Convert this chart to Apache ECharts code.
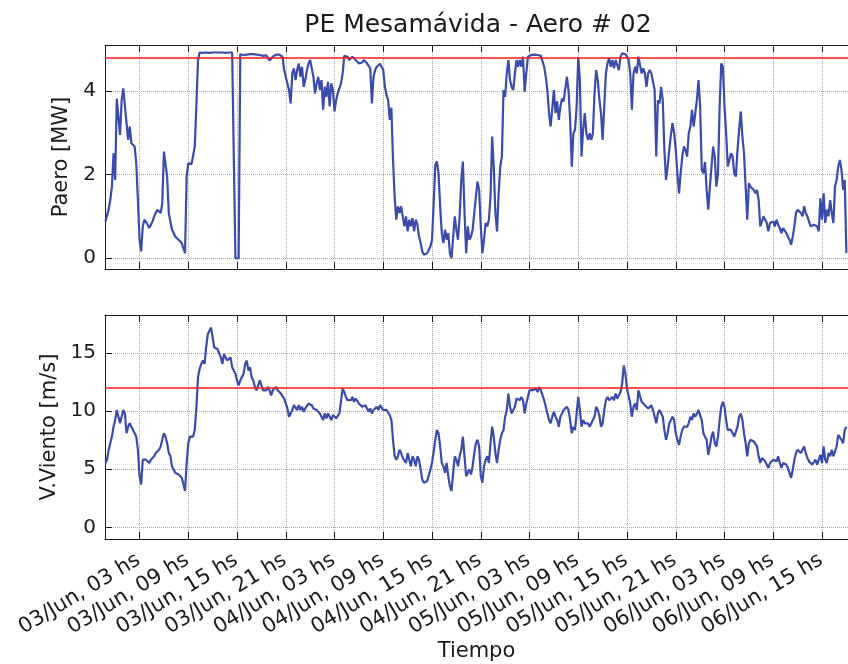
<!DOCTYPE html>
<html><head><meta charset="utf-8">
<script src="https://cdn.jsdelivr.net/npm/echarts@6/dist/echarts.min.js"></script>
<style>html,body{margin:0;padding:0;background:#fff}#c{width:848px;height:664px}</style>
</head><body><div id="c"></div>
<script>
// time grid: hours since 03/Jun 00:00, one sample every 0.2 h
const tStart = -1.2;
const tStep = 0.2;

const paero = [
0.88,0.88,1.16,1.39,1.71,2.51,1.87,3.82,3.78,2.95,
3.78,4.06,4.02,3.23,2.83,3.15,2.75,2.71,2.67,2.27,
1.39,0.44,0.16,0.76,0.92,0.88,0.80,0.72,0.80,0.88,
1.00,1.08,1.16,1.20,1.08,1.31,2.55,2.51,1.95,1.08,
1.04,0.68,0.60,0.52,0.48,0.44,0.40,0.36,0.32,0.12,
1.95,2.27,2.23,2.25,2.27,2.67,3.67,4.74,
4.92,4.92,4.91,4.92,4.92,4.92,4.91,4.92,4.92,4.92,4.92,4.91,4.92,4.92,4.92,4.92,4.91,4.92,4.92,4.92,4.92,
4.90,0,0,0,4.88,4.88,4.86,4.88,4.87,4.90,
4.88,4.86,4.88,4.85,4.87,4.84,4.86,4.87,4.84,4.87,
4.85,4.82,4.73,4.76,4.82,4.85,4.87,4.88,4.87,4.88,
4.82,4.50,4.34,4.18,4.02,
3.70,4.42,4.54,4.26,4.50,4.66,4.34,4.58,4.10,4.26,
4.50,4.66,4.74,4.70,4.34,3.94,4.18,4.34,4.02,4.26,
3.55,4.10,3.86,4.22,3.63,4.18,4.02,3.51,3.78,3.95,
3.94,4.18,4.42,4.84,4.86,4.82,4.74,4.78,4.82,4.78,
4.74,4.70,4.66,4.62,4.68,4.74,4.70,4.66,4.62,4.54,
3.70,4.34,4.50,4.58,4.62,4.65,4.62,4.50,4.10,3.90,
3.78,3.31,3.60,2.35,1.47,0.92,1.24,1.08,1.24,1.00,
0.76,1.00,0.64,0.92,0.76,0.96,0.64,0.92,0.80,0.52,
0.36,0.16,0.08,0.08,0.12,0.20,0.28,0.44,1.30,
2.23,2.31,2.03,1.24,0.60,0.36,0.68,0.44,0.60,0.12,
0.00,0.04,1.00,0.68,0.44,1.00,1.87,2.31,1.08,0.12,
0.76,0.44,0.52,0.68,1.08,1.47,1.83,1.63,
0.76,0.12,0.44,0.84,0.76,0.92,1.47,2.91,2.19,1.08,
0.64,1.55,2.19,2.43,4.02,3.86,4.42,4.74,4.26,4.10,
4.02,4.42,4.74,4.58,4.74,4.58,4.82,3.98,4.42,4.82,
4.85,4.86,4.87,
4.87,4.84,4.86,4.86,4.84,4.82,4.58,4.34,4.02,3.47,
3.15,3.11,4.02,3.47,3.75,3.31,3.63,3.82,3.75,3.78,
4.34,4.02,3.31,2.19,2.99,3.07,3.63,4.82,4.26,2.43,
3.07,3.47,2.99,2.83,2.99,2.83,2.99,3.94,4.50,4.26,3.80,
3.47,2.83,3.63,4.42,4.66,4.78,4.58,4.74,4.54,4.74,
4.62,4.50,4.82,4.90,4.86,4.88,4.82,4.74,4.42,3.55,
4.42,4.58,4.42,4.82,4.62,4.42,4.54,4.42,4.10,4.42,
4.50,4.42,4.46,4.02,2.43,3.78,3.70,
4.10,3.78,2.59,1.87,2.19,2.59,2.95,3.23,2.99,2.59,
2.03,1.55,2.03,2.43,2.67,2.59,2.43,2.99,3.15,3.55,
3.15,3.11,3.78,4.26,3.63,2.11,2.03,2.30,
1.63,1.16,1.71,2.19,2.67,2.43,1.71,2.03,3.63,4.66,
4.58,3.63,2.99,2.19,2.35,2.51,2.43,2.03,1.95,2.59,
3.07,3.51,2.91,2.51,1.71,0.92,1.79,1.71,1.70,
1.63,1.55,1.63,1.39,0.76,0.88,1.00,1.04,0.84,0.64,
0.84,0.80,0.88,0.76,0.92,0.80,0.72,0.60,0.72,0.68,
0.60,0.52,0.44,0.32,0.52,0.76,1.08,1.16,1.12,
1.08,1.00,1.24,1.08,1.00,0.88,0.76,0.72,0.80,0.80,
0.76,0.64,1.43,0.92,1.55,0.84,1.16,1.00,1.39,1.08,
0.84,1.71,1.87,2.19,2.35,2.11,1.63,1.87,0.12
];

const viento = [
5.54,5.82,6.68,7.24,7.81,8.66,9.23,10.09,9.52,8.95,
9.52,10.09,9.80,8.10,8.66,8.95,8.66,8.38,8.10,7.81,
6.68,4.40,3.69,5.82,5.97,5.82,5.68,5.54,5.82,5.97,
6.11,6.39,6.53,6.68,6.96,7.53,8.10,7.81,7.24,6.39,
6.11,5.26,4.97,4.69,4.63,4.55,4.40,4.26,4.12,3.13,
5.54,7.24,7.81,7.95,7.81,8.38,10.37,12.93,
13.64,14.06,14.35,14.06,15.48,16.62,16.90,17.19,16.34,15.48,15.40,
15.34,15.20,14.63,14.06,14.91,14.60,14.35,14.20,14.63,13.78,
13.49,13.21,12.64,12.22,12.64,12.93,13.21,14.06,14.35,13.49,
13.78,12.93,12.64,12.07,11.79,12.22,12.64,12.50,11.79,11.65,
11.79,12.07,11.79,11.36,11.79,11.65,12.07,11.79,11.93,11.51,
11.36,11.08,10.94,10.23,9.52,
9.52,10.09,10.51,10.37,10.09,10.51,10.09,10.37,9.94,10.23,
10.37,10.65,10.80,10.51,10.23,10.37,10.09,10.23,9.80,9.52,
9.23,9.80,9.38,9.80,9.52,9.23,9.66,9.52,9.38,9.50,
9.80,9.66,11.93,11.65,11.22,10.94,11.08,10.94,11.22,10.80,
11.08,10.94,10.65,10.51,10.37,10.23,10.51,10.37,9.94,10.23,
9.80,10.09,9.94,10.37,10.09,10.51,10.37,10.09,10.23,10.10,
9.94,9.66,9.23,7.53,6.11,5.82,6.11,6.68,6.39,5.97,
6.11,5.54,6.39,5.82,5.26,6.11,5.82,5.26,6.11,5.82,
4.97,4.12,3.84,3.69,3.98,4.12,4.97,5.54,6.50,
7.53,8.38,8.10,6.96,5.54,5.26,4.69,5.54,4.40,3.55,
3.13,4.69,6.11,5.82,5.26,6.11,6.68,7.81,6.11,4.40,
4.69,4.97,4.55,5.26,6.39,7.24,7.53,6.96,
4.40,3.84,5.26,5.82,6.11,5.54,7.24,8.66,7.81,6.39,
5.54,6.68,7.53,8.10,8.38,9.52,10.09,11.51,10.37,9.80,
10.09,10.37,11.08,10.94,10.94,11.22,10.94,9.80,10.65,11.22,
11.79,11.93,11.80,
11.65,11.93,11.65,12.07,11.79,11.36,10.94,10.37,9.80,9.23,
8.95,9.52,9.94,9.52,9.23,8.66,9.52,9.80,10.09,10.09,
10.37,10.09,9.23,8.10,8.66,8.38,9.80,11.22,10.09,8.66,
9.23,8.95,8.81,8.95,8.66,8.81,9.23,9.52,10.37,10.09,9.60,
8.66,8.95,10.09,10.94,11.22,10.94,11.08,11.22,10.94,11.51,
11.08,11.22,11.65,12.36,13.92,13.21,11.93,11.79,10.65,9.52,
10.37,10.65,10.09,11.79,11.93,10.80,10.94,10.51,10.65,10.23,
10.37,10.51,10.09,10.09,8.95,9.80,10.09,
10.09,9.52,8.38,7.53,8.10,8.95,9.23,9.52,9.23,8.10,
7.53,7.10,7.81,8.38,8.66,8.52,8.66,8.95,9.52,9.23,
9.80,9.52,9.80,10.09,10.23,9.23,8.10,7.80,
7.53,6.25,6.96,7.81,8.24,7.24,6.96,7.81,9.23,10.37,
10.80,10.37,9.23,8.38,8.24,8.38,8.24,7.81,7.67,8.66,
9.52,9.80,9.23,8.10,7.24,6.11,7.24,7.53,7.50,
7.39,7.24,6.96,6.11,5.54,5.97,6.11,5.68,5.54,5.11,
5.54,5.68,5.82,5.97,5.68,6.11,5.54,5.11,5.54,5.68,
5.40,5.11,4.69,4.26,4.97,5.82,6.39,6.68,6.60,
6.39,6.53,6.96,6.39,5.97,5.68,5.54,5.40,5.54,5.82,
5.40,5.26,6.25,5.54,6.96,5.82,5.54,6.39,6.11,6.68,
6.11,6.11,6.96,7.95,8.10,7.53,7.24,8.38,8.66
];

const tickHours = [3,9,15,21,27,33,39,45,51,57,63,69,75,81,87];
const tickLabels = ["03/Jun, 03 hs","03/Jun, 09 hs","03/Jun, 15 hs","03/Jun, 21 hs",
  "04/Jun, 03 hs","04/Jun, 09 hs","04/Jun, 15 hs","04/Jun, 21 hs",
  "05/Jun, 03 hs","05/Jun, 09 hs","05/Jun, 15 hs","05/Jun, 21 hs",
  "06/Jun, 03 hs","06/Jun, 09 hs","06/Jun, 15 hs"];
const yTicksP = [0, 2, 4];
const yTicksV = [0, 5, 10, 15];
const limitP = 4.8;
const limitV = 12;

const times = paero.map((_, i) => +(tStart + i * tStep).toFixed(2));
const dataP = times.map((t, i) => [t, paero[i]]);
const dataV = times.map((t, i) => [t, viento[i]]);

const FONT = 'DejaVu Sans';
const INK = '#1a1a1a';
const LINE = '#3a4cab';
const xMin = -1.25, xMax = 90.2;

function xBottom(grid, showLabels) {
  return {
    gridIndex: grid, type: 'value', min: xMin, max: xMax, position: 'bottom',
    axisLine: { show: true, onZero: false, lineStyle: { color: INK, width: 1 } },
    axisTick: { show: true, inside: true, length: 7, customValues: tickHours, lineStyle: { color: INK } },
    axisLabel: showLabels ? {
      show: true, customValues: tickHours, rotate: 31, margin: 19,
      fontFamily: FONT, fontSize: 21, color: INK, padding: [0, 1, 0, 0],
      formatter: v => tickLabels[tickHours.indexOf(Math.round(v))] || ''
    } : { show: false },
    splitLine: { show: true, lineStyle: { type: 'dotted', color: '#a8a8a8', width: 1 } },
    name: showLabels ? 'Tiempo' : '', nameLocation: 'middle', nameGap: 100,
    nameTextStyle: { fontFamily: FONT, fontSize: 21, color: INK }
  };
}
function xTop(grid) {
  return {
    gridIndex: grid, type: 'value', min: xMin, max: xMax, position: 'top',
    axisLine: { show: true, onZero: false, lineStyle: { color: INK, width: 1 } },
    axisTick: { show: true, inside: true, length: 7, customValues: tickHours, lineStyle: { color: INK } },
    axisLabel: { show: false }, splitLine: { show: false }
  };
}
function yLeft(grid, min, max, ticks, name, gap) {
  return {
    gridIndex: grid, type: 'value', min: min, max: max, position: 'left',
    axisLine: { show: true, onZero: false, lineStyle: { color: INK, width: 1 } },
    axisTick: { show: true, inside: true, length: 7, customValues: ticks, lineStyle: { color: INK } },
    axisLabel: { show: true, customValues: ticks, margin: 9, fontFamily: FONT, fontSize: 20, color: INK },
    splitLine: { show: true, lineStyle: { type: 'dotted', color: '#a8a8a8', width: 1 } },
    name: name, nameLocation: 'middle', nameGap: gap,
    nameTextStyle: { fontFamily: FONT, fontSize: 21, color: INK }
  };
}
function limitLine(v) {
  return {
    silent: true, symbol: 'none', animation: false,
    label: { show: false },
    lineStyle: { color: '#ff1a1a', width: 1.6, type: 'solid' },
    data: [{ yAxis: v }]
  };
}

const chart = echarts.init(document.getElementById('c'), null, { renderer: 'canvas' });
chart.setOption({
  animation: false,
  backgroundColor: '#fff',
  title: {
    text: 'PE Mesamávida - Aero # 02', left: 473, top: 8, textAlign: 'center',
    textStyle: { fontFamily: FONT, fontSize: 25, fontWeight: 'normal', color: INK }
  },
  grid: [
    { left: 105, right: -2, top: 45, height: 224 },
    { left: 105, right: -2, top: 315, height: 224 }
  ],
  xAxis: [xBottom(0, false), xTop(0), xBottom(1, true), xTop(1)],
  yAxis: [
    yLeft(0, -0.26, 5.1, yTicksP, 'Paero [MW]', 27),
    yLeft(1, -1.0, 18.27, yTicksV, 'V.Viento [m/s]', 37)
  ],
  series: [
    { type: 'line', xAxisIndex: 0, yAxisIndex: 0, data: dataP, showSymbol: false,
      lineStyle: { color: LINE, width: 2.2 }, markLine: limitLine(limitP) },
    { type: 'line', xAxisIndex: 2, yAxisIndex: 1, data: dataV, showSymbol: false,
      lineStyle: { color: LINE, width: 2.2 }, markLine: limitLine(limitV) }
  ]
});
</script></body></html>
